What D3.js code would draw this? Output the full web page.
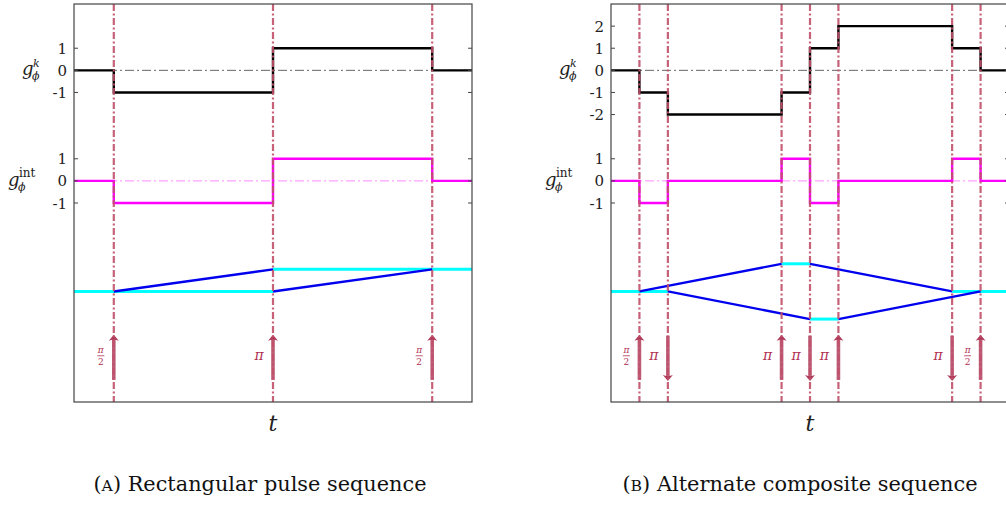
<!DOCTYPE html>
<html>
<head>
<meta charset="utf-8">
<script src="https://cdn.jsdelivr.net/npm/d3@7"></script>
<style>
  body { margin: 0; background: #fff; }
  svg { display: block; }
</style>
</head>
<body>
<script>
'use strict';

// time axis (arbitrary units) and vertical offsets of the three stacked traces
const tDomain = [0, 10];
const yDomain = [3, -15];
const gintOffset = -5;
const phaseOffset = -10;
const arrowSpan = [-12, -14];

// (A) rectangular pulse sequence
const pulseTimesA = [1, 5, 9];
const pulseLabelsA = ['half', 'pi', 'half'];
const pulseDirA = [1, 1, 1];
const gkA = [0, -1, 1, 0];
const gintA = [0, -1, 1, 0];
const gkTicksA = [1, 0, -1];
// cyan segments: [tStart, tEnd, level]; blue: [t0, v0, t1, v1]
const phaseCyanA = [[0, 5, 0], [5, 10, 1]];
const phaseBlueA = [[1, 0, 5, 1], [5, 0, 9, 1]];

// (B) alternate composite sequence
const pulseTimesB = [0.714, 1.429, 4.286, 5.0, 5.714, 8.571, 9.286];
const pulseLabelsB = ['half', 'pi', 'pi', 'pi', 'pi', 'pi', 'half'];
const pulseDirB = [1, -1, 1, -1, 1, -1, 1];
const gkB = [0, -1, -2, -1, 1, 2, 1, 0];
const gintB = [0, -1, 0, 1, -1, 0, 1, 0];
const gkTicksB = [2, 1, 0, -1, -2];
const phaseCyanB = [[0, 1.429, 0], [4.286, 5.0, 1.25], [5.0, 5.714, -1.25], [8.571, 10, 0]];
const phaseBlueB = [[0.714, 0, 4.286, 1.25], [1.429, 0, 5.0, -1.25], [5.0, 1.25, 8.571, 0], [5.714, -1.25, 9.286, 0]];

const gintTicks = [1, 0, -1];

const W = 1006, H = 505;
const PW = 398, PH = 398;
const serif = "'DejaVu Serif', 'Liberation Serif', serif";

const svg = d3.select('body').append('svg')
  .attr('width', W)
  .attr('height', H);

drawPanel(74, 4, {
  pulses: pulseTimesA, labels: pulseLabelsA, dirs: pulseDirA,
  gk: gkA, gint: gintA, gkTicks: gkTicksA,
  cyan: phaseCyanA, blue: phaseBlueA,
  caption: 'Rectangular pulse sequence', letter: 'A', capShift: -13
});
drawPanel(611, 4, {
  pulses: pulseTimesB, labels: pulseLabelsB, dirs: pulseDirB,
  gk: gkB, gint: gintB, gkTicks: gkTicksB,
  cyan: phaseCyanB, blue: phaseBlueB,
  caption: 'Alternate composite sequence', letter: 'B', capShift: -10
});

function drawPanel(left, top, cfg) {
  const g = svg.append('g').attr('transform', `translate(${left},${top})`);

  const x = d3.scaleLinear().domain(tDomain).range([0, PW]);
  const y = d3.scaleLinear().domain(yDomain).range([0, PH]);

  // step curve through the levels between pulses
  function stepPoints(levels, offset) {
    const ts = [tDomain[0]].concat(cfg.pulses, [tDomain[1]]);
    const pts = levels.map((v, i) => [ts[i], v + offset]);
    pts.push([ts[ts.length - 1], levels[levels.length - 1] + offset]);
    return pts;
  }
  const stepLine = d3.line()
    .x(d => x(d[0]))
    .y(d => y(d[1]))
    .curve(d3.curveStepAfter);

  // dash-dot zero lines
  g.append('line')
    .attr('x1', x(tDomain[0])).attr('x2', x(tDomain[1]))
    .attr('y1', y(0)).attr('y2', y(0))
    .attr('stroke', '#666').attr('stroke-width', 1)
    .attr('stroke-dasharray', '9,3,2,3');
  g.append('line')
    .attr('x1', x(tDomain[0])).attr('x2', x(tDomain[1]))
    .attr('y1', y(gintOffset)).attr('y2', y(gintOffset))
    .attr('stroke', '#ff88ff').attr('stroke-width', 1)
    .attr('stroke-dasharray', '9,3,2,3');

  // g^k trace
  g.append('path')
    .attr('d', stepLine(stepPoints(cfg.gk, 0)))
    .attr('fill', 'none').attr('stroke', '#000').attr('stroke-width', 2.4);

  // g^int trace
  g.append('path')
    .attr('d', stepLine(stepPoints(cfg.gint, gintOffset)))
    .attr('fill', 'none').attr('stroke', '#ff00ff').attr('stroke-width', 2.4);

  // phase: cyan plateaus then blue ramps
  g.selectAll('.cyan')
    .data(cfg.cyan)
    .enter()
    .append('line')
    .attr('x1', d => x(d[0])).attr('x2', d => x(d[1]))
    .attr('y1', d => y(d[2] + phaseOffset)).attr('y2', d => y(d[2] + phaseOffset))
    .attr('stroke', '#00ffff').attr('stroke-width', 3);
  g.selectAll('.blue')
    .data(cfg.blue)
    .enter()
    .append('line')
    .attr('x1', d => x(d[0])).attr('y1', d => y(d[1] + phaseOffset))
    .attr('x2', d => x(d[2])).attr('y2', d => y(d[3] + phaseOffset))
    .attr('stroke', '#0000ee').attr('stroke-width', 2.4);

  // pulse arrows
  const arrowColor = '#a8284a';
  cfg.pulses.forEach((t, i) => {
    const px = x(t);
    const yTop = y(arrowSpan[0]);
    const yBot = y(arrowSpan[1]);
    const up = cfg.dirs[i] > 0;
    g.append('line')
      .attr('x1', px).attr('x2', px)
      .attr('y1', up ? yTop + 3 : yTop)
      .attr('y2', up ? yBot : yBot - 3)
      .attr('stroke', arrowColor).attr('stroke-width', 3.6)
      .attr('opacity', 0.75);
    const hy = up ? yTop : yBot;
    const s = up ? 1 : -1;
    g.append('path')
      .attr('d', `M${px},${hy - s * 1} L${px + 5},${hy + s * 5} L${px},${hy + s * 3.5} L${px - 5},${hy + s * 5} Z`)
      .attr('fill', arrowColor).attr('opacity', 0.9);

    const ly = y((arrowSpan[0] + arrowSpan[1]) / 2) - 2;
    if (cfg.labels[i] === 'half') {
      const lg = g.append('g').attr('transform', `translate(${px - 13},${ly})`);
      lg.append('text').attr('x', 0).attr('y', -3)
        .attr('text-anchor', 'middle')
        .style('font-family', serif).style('font-style', 'italic')
        .style('font-size', '9px').attr('fill', '#b03050').text('π');
      lg.append('line').attr('x1', -3.5).attr('x2', 3.5).attr('y1', 0).attr('y2', 0)
        .attr('stroke', '#b03050').attr('stroke-width', 0.8);
      lg.append('text').attr('x', 0).attr('y', 9)
        .attr('text-anchor', 'middle')
        .style('font-family', serif)
        .style('font-size', '9px').attr('fill', '#b03050').text('2');
    } else {
      g.append('text')
        .attr('x', px - 14).attr('y', ly + 4)
        .attr('text-anchor', 'middle')
        .style('font-family', serif).style('font-style', 'italic')
        .style('font-size', '14px').attr('fill', '#b03050').text('π');
    }
  });

  // dash-dot pulse markers
  g.selectAll('.pulse')
    .data(cfg.pulses)
    .enter()
    .append('line')
    .attr('x1', d => x(d)).attr('x2', d => x(d))
    .attr('y1', 0).attr('y2', PH)
    .attr('stroke', '#c0506a').attr('stroke-width', 2.2)
    .attr('stroke-dasharray', '7,2.5,2,2.5')
    .attr('opacity', 0.9);

  // box
  g.append('rect')
    .attr('x', 0).attr('y', 0).attr('width', PW).attr('height', PH)
    .attr('fill', 'none').attr('stroke', '#444').attr('stroke-width', 1.2);

  // y ticks on both sides, labels on the left
  const tickVals = cfg.gkTicks.map(v => ({ v: v, pos: v }))
    .concat(gintTicks.map(v => ({ v: v, pos: v + gintOffset })));
  tickVals.forEach(d => {
    const ty = y(d.pos);
    g.append('line').attr('x1', 0).attr('x2', 4).attr('y1', ty).attr('y2', ty)
      .attr('stroke', '#444').attr('stroke-width', 1);
    g.append('line').attr('x1', PW - 4).attr('x2', PW).attr('y1', ty).attr('y2', ty)
      .attr('stroke', '#444').attr('stroke-width', 1);
    g.append('text')
      .attr('x', -7).attr('y', ty + 5.5)
      .attr('text-anchor', 'end')
      .style('font-family', serif).style('font-size', '15px')
      .attr('fill', '#222')
      .text(d.v < 0 ? '-' + Math.abs(d.v) : d.v);
  });

  // y-axis trace labels, pieces placed separately
  function piece(px, py, txt, size, italic) {
    g.append('text')
      .attr('x', px).attr('y', py)
      .style('font-family', serif)
      .style('font-style', italic ? 'italic' : 'normal')
      .style('font-size', size + 'px')
      .attr('fill', '#222')
      .text(txt);
  }
  piece(-52, y(0) + 5, 'g', 18, true);
  piece(-41, y(0) - 3, 'k', 11, true);
  piece(-42, y(0) + 10, 'ϕ', 11, true);

  piece(-66, y(gintOffset) + 5, 'g', 18, true);
  piece(-55, y(gintOffset) - 4, 'int', 12, false);
  piece(-56, y(gintOffset) + 10, 'ϕ', 11, true);

  // t axis label
  g.append('text')
    .attr('x', PW / 2).attr('y', PH + 29)
    .attr('text-anchor', 'middle')
    .style('font-family', serif).style('font-style', 'italic')
    .style('font-size', '22px').attr('fill', '#222')
    .text('t');

  // caption
  const capText = '(' + cfg.letter + ') ' + cfg.caption;
  const cap = svg.append('text')
    .attr('x', left + PW / 2 + cfg.capShift).attr('y', 491)
    .attr('text-anchor', 'middle')
    .attr('textLength', capText.length * 11.1)
    .attr('lengthAdjust', 'spacingAndGlyphs')
    .style('font-family', serif).style('font-size', '20px')
    .attr('fill', '#111');
  cap.append('tspan').text('(');
  cap.append('tspan').style('font-size', '15px').text(cfg.letter);
  cap.append('tspan').text(') ' + cfg.caption);
}
</script>
</body>
</html>
